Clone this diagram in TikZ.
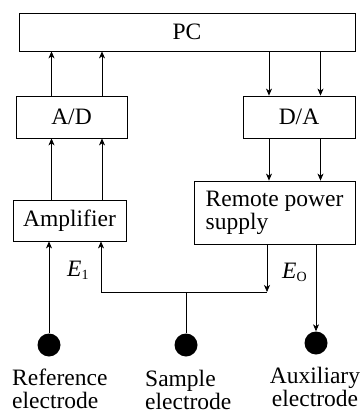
\documentclass[tikz,border=0pt]{standalone}
\usepackage{fontspec}
\setmainfont{Liberation Serif}
\usetikzlibrary{arrows.meta,calc}
\begin{document}
\begin{tikzpicture}[x=1pt,y=-1pt,
  box/.style={draw, line width=0.8pt, inner sep=0pt, font=\fontsize{23.5}{23}\selectfont},
  arr/.style={-{Stealth[length=7pt,width=6pt,inset=2pt]}, line width=0.7pt},
  ln/.style={line width=0.7pt},
  dot/.style={circle, fill=black, minimum size=23pt, inner sep=0pt},
  lab/.style={font=\fontsize{23.5}{23}\selectfont, inner sep=0pt}]
\useasboundingbox (0,0) rectangle (360,414);
\node[box, minimum width=336pt, minimum height=38pt] (pc) at (187,32) {PC};
\node[box, minimum width=111pt, minimum height=42pt] (ad) at (71.5,117) {A/D};
\node[box, minimum width=112pt, minimum height=42pt] (da) at (299,117) {D/A};
\node[box, minimum width=113pt, minimum height=41pt] (amp) at (69.5,220.5) {Amplifier};
\node[box, minimum width=161pt, minimum height=63pt, align=left] (rps) at (274.5,212.5) {Remote power\\supply};
\node[dot] (ref) at (49,345) {};
\node[dot] (smp) at (186,345) {};
\node[dot] (aux) at (316,343) {};
\coordinate (j) at (101,292);
\coordinate (k) at (267,292);
\coordinate (xa) at (51.5,0);
\coordinate (xb) at (102,0);
\coordinate (xc) at (269,0);
\coordinate (xd) at (320.5,0);
\draw[arr] (ad.north -| xa) -- (pc.south -| xa);
\draw[arr] (ad.north -| xb) -- (pc.south -| xb);
\draw[arr] (amp.north -| xa) -- (ad.south -| xa);
\draw[arr] (amp.north -| xb) -- (ad.south -| xb);
\draw[arr] (pc.south -| xc) -- (da.north -| xc);
\draw[arr] (pc.south -| xd) -- (da.north -| xd);
\draw[arr] (da.south -| xc) -- (rps.north -| xc);
\draw[arr] (da.south -| xd) -- (rps.north -| xd);
\draw[arr] (ref) -- (amp.south -| ref);
\draw[arr] (j) -- (amp.south -| j);
\draw[ln] (j) -- (k);
\draw[arr] (rps.south -| k) -- (k);
\draw[ln] (smp) -- (smp |- j);
\draw[arr] (rps.south -| aux) -- (aux);
\node[lab, anchor=base west] (e1) at (67,276) {\itshape E\/\raisebox{-3pt}{\upshape\fontsize{14}{14}\selectfont 1}};
\node[lab, anchor=base west] (eo) at (282,278) {\itshape E\/\raisebox{-3pt}{\upshape\fontsize{14}{14}\selectfont O}};
\node[lab, anchor=north west, align=left] (reflab) at (12,369) {Reference\\electrode};
\node[lab, anchor=north west, align=left] (smplab) at (145,370) {Sample\\electrode};
\node[lab, anchor=north, align=center] (auxlab) at (315,367) {Auxiliary\\electrode};
\end{tikzpicture}
\end{document}
